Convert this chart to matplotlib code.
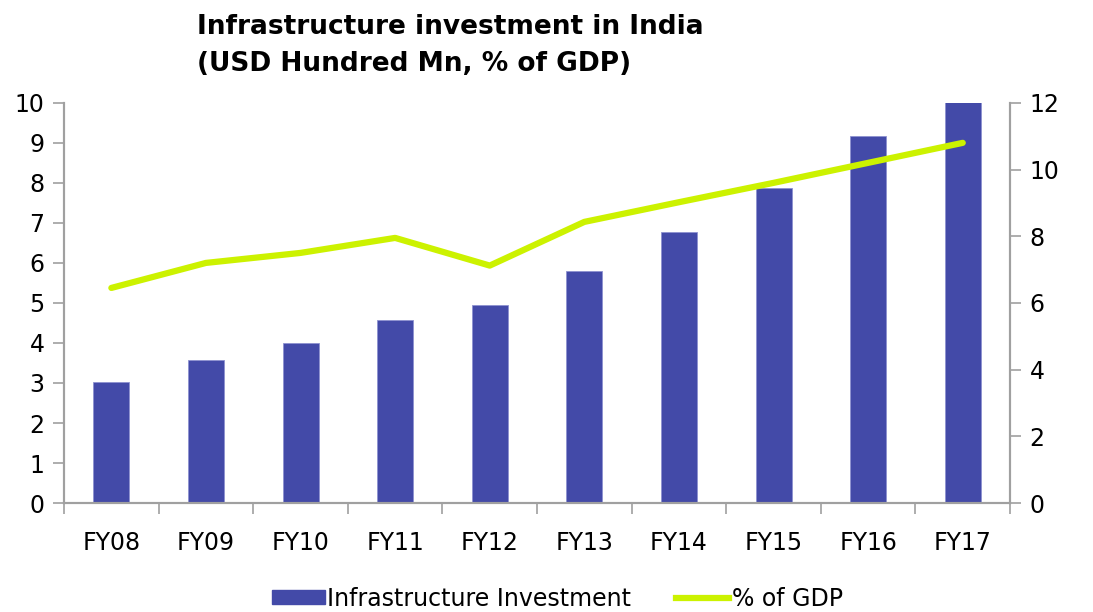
import matplotlib
matplotlib.use("Agg")
import matplotlib.pyplot as plt
from matplotlib.lines import Line2D
from matplotlib.patches import Patch
import numpy as np

years = ["FY08", "FY09", "FY10", "FY11", "FY12", "FY13", "FY14", "FY15", "FY16", "FY17"]
investment = [3.03, 3.58, 4.01, 4.58, 4.95, 5.80, 6.78, 7.87, 9.18, 10.05]
gdp_share = [6.45, 7.20, 7.50, 7.95, 7.12, 8.43, 9.02, 9.60, 10.20, 10.80]

BAR_COLOR = "#434AA8"
LINE_COLOR = "#CCF200"
SPINE_COLOR = "#A0A0A0"

plt.rcParams["font.family"] = ["DejaVu Sans"]

fig = plt.figure(figsize=(10.93, 6.12), dpi=100)
ax = fig.add_axes([0.0586, 0.178, 0.8655, 0.654])
ax2 = ax.twinx()

x = np.arange(len(years))
ax.bar(x, investment, width=0.38, color=BAR_COLOR, edgecolor="#8E92D0", linewidth=0.6, zorder=2)
ax2.plot(x, gdp_share, color=LINE_COLOR, linewidth=4.5, solid_capstyle="round", zorder=3)

ax.set_xlim(-0.5, len(years) - 0.5)
ax.set_ylim(0, 10)
ax2.set_ylim(0, 12)
ax.set_yticks(range(0, 11))
ax2.set_yticks(range(0, 13, 2))

ax.set_xticks(x)
ax.set_xticklabels(years)
ax.set_xticks(np.arange(-0.5, len(years)), minor=True)
ax.tick_params(axis="x", which="major", length=0, pad=20, labelsize=17)
ax.tick_params(axis="x", which="minor", length=8, width=1.2, color=SPINE_COLOR, direction="out")
ax.tick_params(axis="y", length=8, width=1.2, color=SPINE_COLOR, labelsize=17, pad=6)
ax2.tick_params(axis="y", length=8, width=1.2, color=SPINE_COLOR, labelsize=17, pad=6)

for a in (ax, ax2):
    a.spines["top"].set_visible(False)
    for s in ("left", "right", "bottom"):
        a.spines[s].set_color(SPINE_COLOR)
        a.spines[s].set_linewidth(1.5)
ax.set_zorder(ax2.get_zorder() - 1)
ax2.patch.set_visible(False)

fig.text(0.18, 0.926, "Infrastructure investment in India\n(USD Hundred Mn, % of GDP)",
         fontsize=19, fontweight="bold", ha="left", va="center", linespacing=1.55)

handles = [Patch(facecolor=BAR_COLOR, edgecolor=BAR_COLOR),
           Line2D([0], [0], color=LINE_COLOR, linewidth=4.5)]
fig.legend(handles, ["Infrastructure Investment", "% of GDP"], loc="center",
           bbox_to_anchor=(0.51, 0.022), ncol=2, frameon=False, fontsize=17,
           handlelength=2.25, handleheight=0.55, handletextpad=0.1, columnspacing=1.9)

fig.savefig("out.png", dpi=100)
